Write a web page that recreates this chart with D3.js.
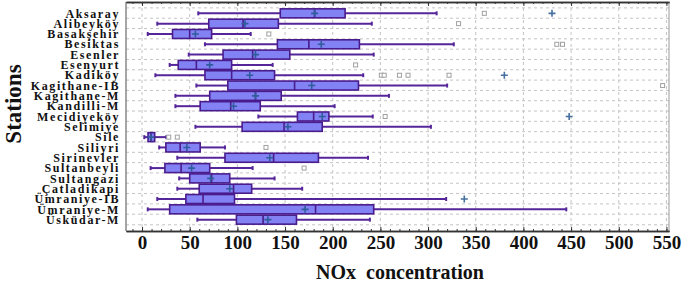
<!DOCTYPE html>
<html>
<head>
<meta charset="utf-8">
<script src="https://cdn.jsdelivr.net/npm/d3@7"></script>
<style>
  body { margin: 0; background: #fff; }
  text { font-family: "Liberation Serif", "Times New Roman", serif; font-weight: bold; }
</style>
</head>
<body>
<svg id="chart" width="685" height="283"></svg>
<script>
// stations, top to bottom
const stations = ['Aksaray', 'Alibeyköy', 'Basakşehir', 'Besiktas', 'Esenler', 'Esenyurt',
  'Kadiköy', 'Kagithane-IB', 'Kagithane-M', 'Kandilli-M', 'Mecidiyeköy', 'Selimiye',
  'Sile', 'Siliyri', 'Sirinevler', 'Sultanbeyli', 'Sultangazi', 'Çatladikapi',
  'Ümraniye-IB', 'Ümraniye-M', 'Üsküdar-M'];

// box-whisker summaries
const whiskerLow  = [59, 16, 6, 66, 49, 29, 14, 57, 35, 35, 122, 56, 2.4, 18, 37, 9, 39, 37, 16, 6, 58];
const q1          = [145, 70, 32, 142, 85, 38, 66, 90, 71, 61, 163, 105, 6.3, 25, 87, 24, 50, 60, 46, 29, 99];
const medians     = [181, 106, 50, 175, 116, 57, 94, 160, 119, 93, 180, 149, 9.4, 40, 138, 41, 73, 96, 64, 182, 127];
const q3          = [213, 143, 73, 228, 155, 94, 139, 227, 146, 124, 196, 189, 13.3, 61, 185, 71, 92, 115, 97, 243, 162];
const whiskerHigh = [309, 241, 114, 327, 243, 137, 232, 320, 259, 202, 242, 303, 25.5, 87, 237, 116, 139, 168, 319, 445, 239];
const means       = [181, 108, 56, 188, 119, 71, 113, 178, 119, 96, 189, 153, 9.4, 47, 134, 52, 72, 92, null, 171, 132];

// outliers (squares) and far outliers (plus signs)
const outliers = [[359], [332], [133], [435, 441], [], [224], [251, 254, 270, 279, 322], [546], [], [], [255], [],
  [28, 37], [130], [], [170], [], [], [], [], []];
const farOutliers = [[430], [], [], [], [], [], [380], [], [], [], [448], [], [], [], [], [], [], [], [338], [], []];

const xTicks = [0, 50, 100, 150, 200, 250, 300, 350, 400, 450, 500, 550];

const svg = d3.select('#chart');
const plotL = 126, plotR = 669, plotT = 2, plotB = 231;

const x = d3.scaleLinear().domain([-16.8, 552.7]).range([plotL, plotR]);
const y = d3.scalePoint().domain(stations).range([plotT, plotB]).padding(1.1);
const step = y.step();
const boxH = 9;

const rows = stations.map((s, i) => ({
  name: s, lo: whiskerLow[i], q1: q1[i], med: medians[i], q3: q3[i], hi: whiskerHigh[i],
  mean: means[i], out: outliers[i], far: farOutliers[i]
}));

// grid
const grid = svg.append('g').attr('stroke', '#c4c4c4').attr('stroke-dasharray', '3,3').attr('stroke-width', 1);
grid.selectAll('line.v').data(xTicks).join('line').attr('class', 'v')
  .attr('x1', d => x(d)).attr('x2', d => x(d)).attr('y1', plotT).attr('y2', plotB);
grid.selectAll('line.h').data(stations).join('line').attr('class', 'h')
  .attr('x1', plotL).attr('x2', plotR)
  .attr('y1', d => y(d) - step / 2 - 0.3).attr('y2', d => y(d) - step / 2 - 0.3);
grid.append('line').attr('x1', plotL).attr('x2', plotR)
  .attr('y1', y(stations[stations.length - 1]) + step / 2).attr('y2', y(stations[stations.length - 1]) + step / 2);

// frame sides
svg.append('line').attr('x1', plotL).attr('x2', plotL).attr('y1', plotT).attr('y2', plotB)
  .attr('stroke', '#888').attr('stroke-width', 1.5);
svg.append('line').attr('x1', plotR).attr('x2', plotR).attr('y1', plotT).attr('y2', plotB)
  .attr('stroke', '#999').attr('stroke-width', 1);

// axes: inward ticks top and bottom
const minor = d3.range(-10, 560, 10);
const bAxis = svg.append('g').attr('transform', `translate(0,${plotB})`)
  .call(d3.axisBottom(x).tickValues(xTicks).tickSize(-4).tickPadding(5).tickSizeOuter(0));
bAxis.selectAll('text').attr('font-size', 19).attr('fill', '#111')
  .style('font-family', '"Liberation Serif", serif').style('font-weight', 'bold');
svg.append('g').attr('transform', `translate(0,${plotB})`)
  .call(d3.axisBottom(x).tickValues(minor).tickSize(-2).tickFormat('').tickSizeOuter(0));
svg.append('g').attr('transform', `translate(0,${plotT})`)
  .call(d3.axisTop(x).tickValues(xTicks).tickSize(-4).tickFormat('').tickSizeOuter(0));
svg.append('g').attr('transform', `translate(0,${plotT})`)
  .call(d3.axisTop(x).tickValues(minor).tickSize(-2).tickFormat('').tickSizeOuter(0));
svg.selectAll('.domain').attr('stroke', '#333').attr('stroke-width', 1.5);
svg.selectAll('.tick line').attr('stroke', '#333');

// boxes
const purple = '#55259a';
const g = svg.append('g').selectAll('g').data(rows).join('g')
  .attr('transform', d => `translate(0,${y(d.name)})`);

g.append('line').attr('x1', d => x(d.lo)).attr('x2', d => x(d.q1))
  .attr('stroke', purple).attr('stroke-width', 2);
g.append('line').attr('x1', d => x(d.q3)).attr('x2', d => x(d.hi))
  .attr('stroke', purple).attr('stroke-width', 2);
g.append('line').attr('x1', d => x(d.lo)).attr('x2', d => x(d.lo)).attr('y1', -2).attr('y2', 2)
  .attr('stroke', purple).attr('stroke-width', 2);
g.append('line').attr('x1', d => x(d.hi)).attr('x2', d => x(d.hi)).attr('y1', -2).attr('y2', 2)
  .attr('stroke', purple).attr('stroke-width', 2);
g.append('rect').attr('x', d => x(d.q1)).attr('width', d => x(d.q3) - x(d.q1))
  .attr('y', -boxH / 2).attr('height', boxH)
  .attr('fill', '#8282f4').attr('stroke', '#4a1b8c').attr('stroke-width', 1.6);
g.append('line').attr('x1', d => x(d.med)).attr('x2', d => x(d.med))
  .attr('y1', -boxH / 2).attr('y2', boxH / 2).attr('stroke', '#4a1b8c').attr('stroke-width', 1.6);

function plus(sel, size, color) {
  sel.append('path').attr('d', `M${-size},0H${size}M0,${-size}V${size}`)
    .attr('stroke', color).attr('stroke-width', 1.6).attr('fill', 'none');
}
g.filter(d => d.mean != null).append('g')
  .attr('transform', d => `translate(${x(d.mean)},0)`)
  .call(plus, 3.5, '#2f5c9c');

g.selectAll('rect.out').data(d => d.out).join('rect').attr('class', 'out')
  .attr('x', v => x(v) - 2).attr('y', -2).attr('width', 4).attr('height', 4)
  .attr('fill', '#fff').attr('stroke', '#a0a0a0').attr('stroke-width', 1);
g.selectAll('g.far').data(d => d.far).join('g').attr('class', 'far')
  .attr('transform', v => `translate(${x(v)},0)`)
  .call(plus, 3.5, '#46709f');

// station labels
svg.append('g').selectAll('text').data(stations).join('text')
  .attr('x', 120).attr('y', d => y(d)).attr('dy', '0.35em')
  .attr('text-anchor', 'end').attr('font-size', 12).attr('letter-spacing', 1.6)
  .attr('fill', '#111').text(d => d);

// axis titles
svg.append('text').attr('transform', 'translate(21,104) rotate(-90)')
  .attr('text-anchor', 'middle').attr('font-size', 23).attr('fill', '#111').text('Stations');
svg.append('text').attr('x', 400).attr('y', 279).attr('text-anchor', 'middle')
  .attr('font-size', 20).attr('fill', '#111').style('white-space', 'pre')
  .text('NOx  concentration');
</script>
</body>
</html>
